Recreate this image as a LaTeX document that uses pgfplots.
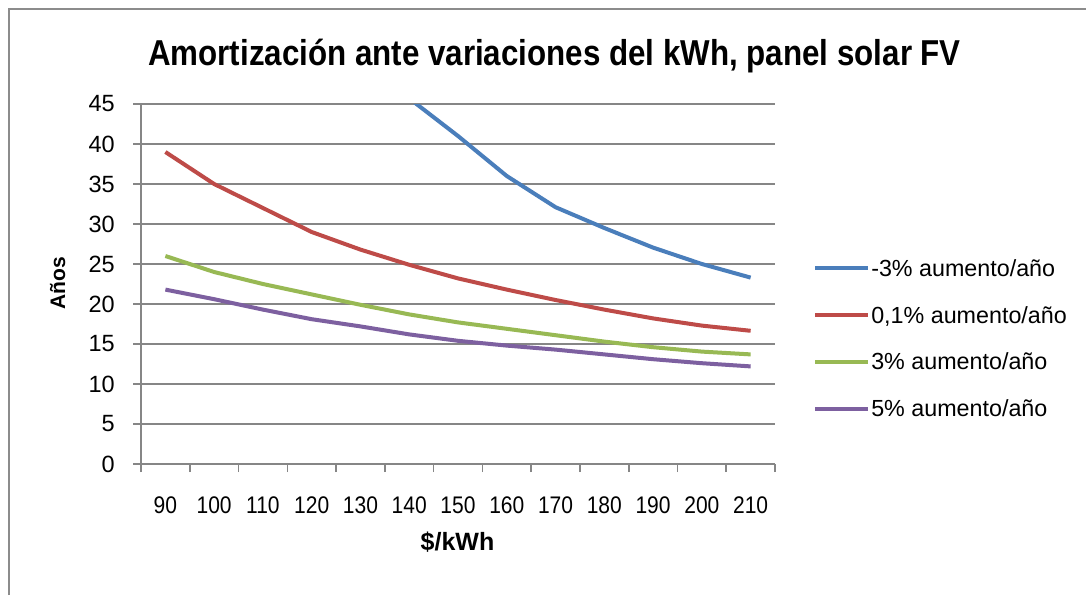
\documentclass[border=0pt]{standalone}
\usepackage{fontspec}
\setmainfont{Liberation Sans}
\newfontfamily\narrowfont[FakeStretch=0.875]{Liberation Sans}
\newfontfamily\titlefont[FakeStretch=0.87]{Liberation Sans Bold}
\usepackage{pgfplots}
\pgfplotsset{compat=1.18}
\definecolor{cblue}{HTML}{4A7EBB}
\definecolor{cred}{HTML}{BE4B48}
\definecolor{cgreen}{HTML}{98B954}
\definecolor{cpurple}{HTML}{7D60A0}
\definecolor{gridgray}{HTML}{868686}
\definecolor{framegray}{HTML}{8C8C8C}
\begin{document}
\begin{tikzpicture}[x=1pt,y=1pt]
\useasboundingbox (0,0) rectangle (1086,595);
\fill[white] (0,0) rectangle (1086,595);
\draw[framegray, line width=2pt] (9,0) -- (9,586) -- (1090,586);
\begin{axis}[
  at={(141pt,131pt)}, anchor=south west,
  scale only axis, width=634pt, height=360pt,
  xmin=-0.5, xmax=12.5, ymin=0, ymax=45,
  axis x line*=bottom, axis y line*=left,
  axis line style={gridgray, line width=1.6pt, -},
  xtick={0,...,12},
  xticklabels={90,100,110,120,130,140,150,160,170,180,190,200,210},
  minor xtick={-0.5,0.5,...,12.5},
  ytick={0,5,...,45},
  tick align=outside,
  major tick length=8pt, minor tick length=8pt,
  tick style={gridgray, line width=1.6pt},
  major x tick style={draw=none},
  ymajorgrids, grid style={gridgray, line width=1.6pt},
  /pgf/number format/assume math mode=true,
  yticklabel style={font=\fontsize{23.5}{26}\selectfont, anchor=east, inner sep=0pt, xshift=-18pt},
  xticklabel style={font=\narrowfont\fontsize{24}{26}\selectfont, anchor=north, inner sep=0pt, yshift=-25pt},
  legend style={draw=none, fill=none, at={(1.06,0.572)}, anchor=north west,
    font=\fontsize{23.3}{26}\selectfont, row sep=26.5pt, inner sep=0pt,
    nodes={inner sep=1pt}},
  legend cell align=left,
  legend image code/.code={\draw[#1, line width=4pt] (0pt,0pt) -- (53pt,0pt);},
]
\addplot[cblue, line width=4pt] coordinates {(5,45.7) (6,41) (7,36) (8,32.1) (9,29.5) (10,27.05) (11,25.0) (12,23.3)};
\addplot[cred, line width=4pt] coordinates {(0,39) (1,35) (2,32) (3,29) (4,26.8) (5,24.9) (6,23.2) (7,21.8) (8,20.5) (9,19.3) (10,18.2) (11,17.3) (12,16.65)};
\addplot[cgreen, line width=4pt] coordinates {(0,26) (1,24) (2,22.5) (3,21.2) (4,19.9) (5,18.7) (6,17.7) (7,16.9) (8,16.1) (9,15.3) (10,14.6) (11,14.05) (12,13.7)};
\addplot[cpurple, line width=4pt] coordinates {(0,21.8) (1,20.6) (2,19.3) (3,18.1) (4,17.2) (5,16.2) (6,15.4) (7,14.8) (8,14.3) (9,13.7) (10,13.1) (11,12.6) (12,12.2)};
\legend{-3\% aumento/año, 0{,}1\% aumento/año, 3\% aumento/año, 5\% aumento/año}
\end{axis}
\node[anchor=base, font=\titlefont\fontsize{36}{40}\selectfont] at (554.5,529.5) {Amortización ante variaciones del kWh, panel solar FV};
\node[anchor=base, font=\bfseries\fontsize{25}{28}\selectfont] at (457.5,45) {\$/kWh};
\node[anchor=base, rotate=90, font=\bfseries\fontsize{21}{24}\selectfont] at (65,311.5) {Años};
\end{tikzpicture}
\end{document}
